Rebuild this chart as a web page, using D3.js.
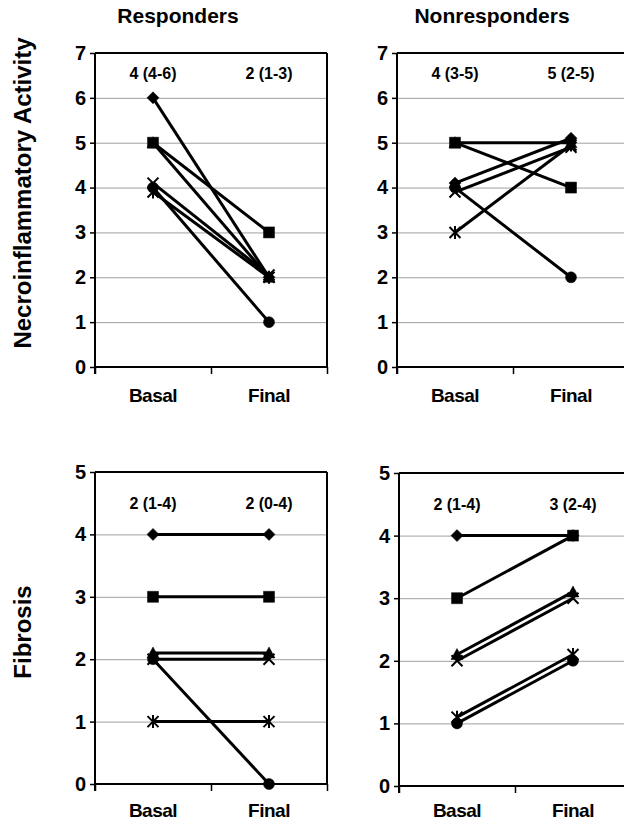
<!DOCTYPE html>
<html>
<head>
<meta charset="utf-8">
<script src="https://cdn.jsdelivr.net/npm/d3@7"></script>
<style>
  html, body { margin: 0; padding: 0; background: #fff; }
  svg { display: block; font-family: Arial, "Liberation Sans", Helvetica, sans-serif; }
</style>
</head>
<body>
<svg id="chart" width="624" height="825"></svg>
<script>
// ---------- data ----------
const categories = ["Basal", "Final"];
const markerTypes = ["diamond", "square", "triangle", "x", "asterisk", "circle"];

// Necroinflammatory activity (each pair: [Basal, Final]), one per marker type
const respNecro    = [[6, 2], [5, 3], [5, 2], [4.1, 2.05], [3.9, 2], [4, 1]];
const nonrespNecro = [[4.1, 5.1], [5, 4], [5, 5], [3.9, 4.9], [3, 4.95], [4, 2]];
// Fibrosis
const respFib      = [[4, 4], [3, 3], [2.1, 2.1], [2, 2], [1, 1], [2, 0]];
const nonrespFib   = [[4, 4], [3, 4], [2.1, 3.1], [2, 3], [1.1, 2.1], [1, 2]];

const respNecroLabels    = ["4 (4-6)", "2 (1-3)"];
const nonrespNecroLabels = ["4 (3-5)", "5 (2-5)"];
const respFibLabels      = ["2 (1-4)", "2 (0-4)"];
const nonrespFibLabels   = ["2 (1-4)", "3 (2-4)"];

const necroTicks = [0, 1, 2, 3, 4, 5, 6, 7];
const fibTicks   = [0, 1, 2, 3, 4, 5];

const columnTitles = ["Responders", "Nonresponders"];
const rowTitles = ["Necroinflammatory Activity", "Fibrosis"];

// ---------- drawing ----------
const svg = d3.select("#chart");

function markerPath(type) {
  const p = d3.path();
  switch (type) {
    case "diamond": p.moveTo(0, -6); p.lineTo(6, 0); p.lineTo(0, 6); p.lineTo(-6, 0); p.closePath(); break;
    case "square": p.rect(-5.5, -5.5, 11, 11); break;
    case "triangle": p.moveTo(0, -6); p.lineTo(6, 5); p.lineTo(-6, 5); p.closePath(); break;
    case "circle": p.arc(0, 0, 5.5, 0, 2 * Math.PI); break;
    case "x": p.moveTo(-5.5, -5.5); p.lineTo(5.5, 5.5); p.moveTo(-5.5, 5.5); p.lineTo(5.5, -5.5); break;
    case "asterisk": p.moveTo(-5.5, -5.5); p.lineTo(5.5, 5.5); p.moveTo(-5.5, 5.5); p.lineTo(5.5, -5.5);
                     p.moveTo(0, -6.5); p.lineTo(0, 6.5); break;
  }
  return p.toString();
}

function panel(cfg) {
  const { x0, x1, yTop, yBot, ticks, series, labels, labelVal, catGap } = cfg;
  const g = svg.append("g");
  const x = d3.scalePoint().domain(categories).range([x0, x1]).padding(0.5);
  const y = d3.scaleLinear().domain([0, d3.max(ticks)]).range([yBot, yTop]);

  // gridlines
  g.append("g")
    .attr("transform", `translate(${x0},0)`)
    .call(d3.axisLeft(y).tickValues(ticks.slice(1, -1)).tickSize(-(x1 - x0)).tickFormat(""))
    .call(s => s.select(".domain").remove())
    .call(s => s.selectAll("line").attr("stroke", "#a0a0a0").attr("stroke-width", 1));

  // frame: top and right
  g.append("line").attr("x1", x0).attr("x2", x1).attr("y1", yTop).attr("y2", yTop)
    .attr("stroke", "#000").attr("stroke-width", 2);
  g.append("line").attr("x1", x1).attr("x2", x1).attr("y1", yTop).attr("y2", yBot)
    .attr("stroke", "#000").attr("stroke-width", 2);

  // y axis
  g.append("g")
    .attr("transform", `translate(${x0},0)`)
    .call(d3.axisLeft(y).tickValues(ticks).tickSize(5).tickPadding(4).tickFormat(d3.format("d")))
    .call(s => s.select(".domain").attr("stroke-width", 2).attr("d", `M0,${yTop}V${yBot + 7}`))
    .call(s => s.selectAll(".tick line").attr("stroke-width", 1.5))
    .call(s => s.selectAll("text").attr("font-size", 20).attr("font-weight", "bold")
      .attr("font-family", "Arial, 'Liberation Sans', sans-serif").attr("fill", "#000"));

  // x axis
  const xb = d3.scaleLinear().domain([0, 2]).range([x0, x1]);
  g.append("g")
    .attr("transform", `translate(0,${yBot})`)
    .call(d3.axisBottom(xb).tickValues([0, 1, 2]).tickSize(7).tickFormat(""))
    .call(s => s.select(".domain").attr("stroke-width", 2).attr("d", `M${x0},0H${x1}`))
    .call(s => s.selectAll(".tick line").attr("stroke-width", 1.5));

  g.selectAll("text.cat").data(categories).join("text")
    .attr("class", "cat")
    .attr("x", d => x(d)).attr("y", yBot + catGap)
    .attr("text-anchor", "middle").attr("font-size", 19).attr("font-weight", "bold")
    .attr("letter-spacing", -0.5)
    .text(d => d);

  // median labels
  g.selectAll("text.med").data(labels).join("text")
    .attr("class", "med")
    .attr("x", (d, i) => x(categories[i])).attr("y", y(labelVal) + 6)
    .attr("text-anchor", "middle").attr("font-size", 16).attr("font-weight", "bold")
    .text(d => d);

  // lines
  const line = d3.line().x((d, i) => x(categories[i])).y(d => y(d));
  g.selectAll("path.series").data(series).join("path")
    .attr("class", "series")
    .attr("d", d => line(d))
    .attr("fill", "none").attr("stroke", "#000").attr("stroke-width", 3);

  // markers
  series.forEach((s, si) => {
    const type = markerTypes[si];
    const stroked = type === "x" || type === "asterisk";
    g.selectAll(null).data(s).join("path")
      .attr("transform", (d, i) => `translate(${x(categories[i])},${y(d)})`)
      .attr("d", markerPath(type))
      .attr("fill", stroked ? "none" : "#000")
      .attr("stroke", "#000")
      .attr("stroke-width", stroked ? 2 : 0.5);
  });
  return { x, y };
}

panel({ x0: 95, x1: 327, yTop: 53, yBot: 367, ticks: necroTicks, series: respNecro, labels: respNecroLabels, labelVal: 6.55, catGap: 35 });
panel({ x0: 397, x1: 629, yTop: 53, yBot: 367, ticks: necroTicks, series: nonrespNecro, labels: nonrespNecroLabels, labelVal: 6.55, catGap: 35 });
panel({ x0: 95, x1: 327, yTop: 472, yBot: 784, ticks: fibTicks, series: respFib, labels: respFibLabels, labelVal: 4.5, catGap: 33 });
panel({ x0: 399, x1: 631, yTop: 473, yBot: 786, ticks: fibTicks, series: nonrespFib, labels: nonrespFibLabels, labelVal: 4.5, catGap: 31 });

// column titles
svg.selectAll("text.coltitle").data(columnTitles).join("text")
  .attr("class", "coltitle")
  .attr("x", (d, i) => [178, 492][i]).attr("y", 23)
  .attr("text-anchor", "middle").attr("font-size", 21).attr("font-weight", "bold")
  .text(d => d);

// row titles
svg.selectAll("text.rowtitle").data(rowTitles).join("text")
  .attr("class", "rowtitle")
  .attr("transform", (d, i) => `translate(31,${[193, 632][i]}) rotate(-90)`)
  .attr("text-anchor", "middle").attr("font-size", 24).attr("font-weight", "bold")
  .text(d => d);
</script>
</body>
</html>
